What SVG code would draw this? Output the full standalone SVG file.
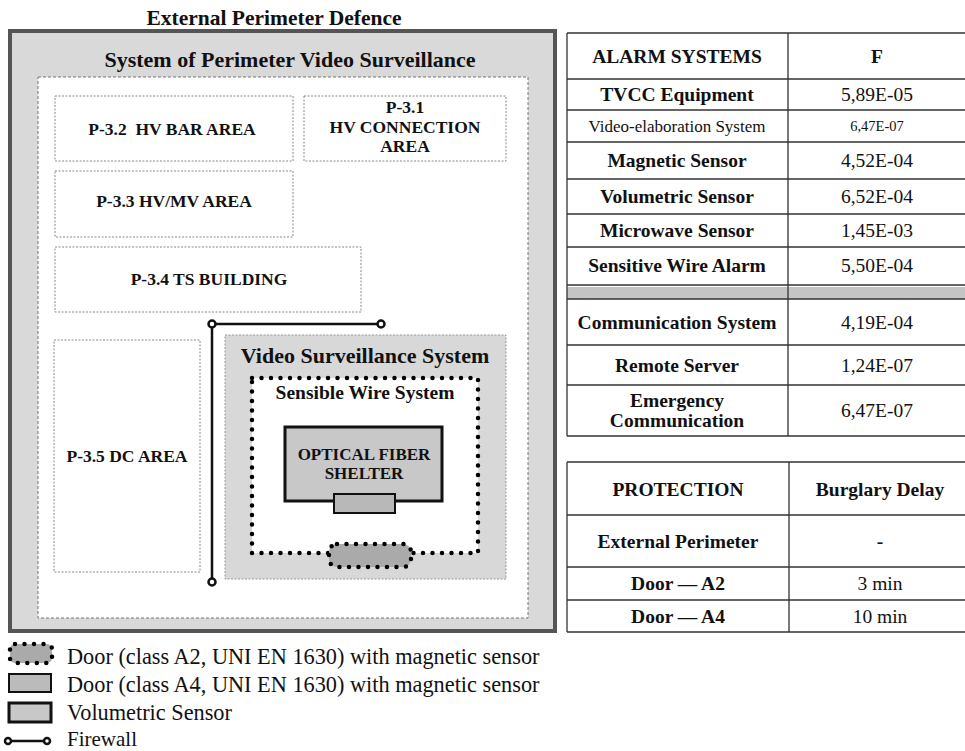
<svg xmlns="http://www.w3.org/2000/svg" width="965" height="751" viewBox="0 0 965 751">
<style>
text{font-family:"Liberation Serif","Times New Roman",serif;fill:#111}
.b{font-weight:bold}
.area{fill:#fff;stroke:#888;stroke-width:1;stroke-dasharray:2 1.5}
.tl{stroke:#333;stroke-width:1.3;fill:none}
.fw{stroke:#111;stroke-width:2.5;fill:none}
.fc{fill:#fff;stroke:#111;stroke-width:2.5}
.dot{fill:none;stroke:#000;stroke-width:4.5;stroke-linecap:round;stroke-dasharray:0 9.5}
.at{font-weight:bold;font-size:17.5px;text-anchor:middle}
.tb{font-weight:bold;font-size:19.5px;text-anchor:middle}
.tv{font-size:19.5px;text-anchor:middle}
.lg{font-size:22.3px}
</style>
<rect width="965" height="751" fill="#fff"/>
<text class="b" x="274" y="25" font-size="21.5" text-anchor="middle">External Perimeter Defence</text>
<g id="outer">
<rect x="10" y="31" width="545" height="600" fill="#d9d9d9" stroke="#555" stroke-width="4"/>
<text class="b" x="290" y="67" font-size="22" text-anchor="middle">System of Perimeter Video Surveillance</text>
<rect x="38" y="77" width="490" height="541" fill="#fff" stroke="#777" stroke-width="1" stroke-dasharray="3 2"/>
</g>
<g id="p32"><rect class="area" x="55" y="96" width="238" height="65"/><text class="at" x="172" y="135" xml:space="preserve">P-3.2  HV BAR AREA</text></g>
<g id="p31"><rect class="area" x="304" y="96" width="202" height="65"/><text class="at" x="405" y="113">P-3.1</text><text class="at" x="405" y="133">HV CONNECTION</text><text class="at" x="405" y="152">AREA</text></g>
<g id="p33"><rect class="area" x="55" y="171" width="238" height="66"/><text class="at" x="174" y="207">P-3.3 HV/MV AREA</text></g>
<g id="p34"><rect class="area" x="55" y="247" width="306" height="65"/><text class="at" x="209" y="285">P-3.4 TS BUILDING</text></g>
<g id="p35"><rect class="area" x="54" y="340" width="146" height="232"/><text class="at" x="127" y="462">P-3.5 DC AREA</text></g>
<g id="vss">
<rect x="225" y="335" width="281" height="244" fill="#d8d8d8" stroke="#999" stroke-width="1" stroke-dasharray="2 1.5"/>
<text class="b" x="365" y="363" font-size="22" text-anchor="middle">Video Surveillance System</text>
</g>
<g id="sws">
<rect x="252" y="378" width="226" height="175" fill="#fff"/>
<path class="dot" d="M252 378 H478 V553 H252 Z"/>
<text class="b" x="365" y="399" font-size="19.5" text-anchor="middle">Sensible Wire System</text>
</g>
<g id="shelter">
<rect x="285" y="427" width="157" height="74" fill="#c8c8c8" stroke="#111" stroke-width="3"/>
<text x="364" y="460" font-size="17" font-weight="bold" text-anchor="middle">OPTICAL FIBER</text>
<text x="364" y="479" font-size="17" font-weight="bold" text-anchor="middle">SHELTER</text>
<rect x="334" y="494" width="61" height="19" fill="#b8b8b8" stroke="#111" stroke-width="2"/>
</g>
<g id="doorA2">
<rect x="329" y="544" width="82" height="23" rx="8" fill="#aaa"/>
<rect class="dot" x="329" y="544" width="82" height="23" rx="8"/>
</g>
<g id="connectors">
<path class="fw" d="M381 324 H212 V582"/>
<circle class="fc" cx="212" cy="324" r="3.5"/>
<circle class="fc" cx="381" cy="324" r="3.5"/>
<circle class="fc" cx="212" cy="582" r="3.5"/>
</g>
<g id="legend">
<rect x="10" y="644" width="42" height="19" rx="5" fill="#aaa"/>
<rect class="dot" x="10" y="644" width="42" height="19" rx="5"/>
<text class="lg" x="67" y="664">Door (class A2, UNI EN 1630) with magnetic sensor</text>
<rect x="9" y="674" width="42" height="18" fill="#bbb" stroke="#111" stroke-width="2"/>
<text class="lg" x="67" y="692">Door (class A4, UNI EN 1630) with magnetic sensor</text>
<rect x="9" y="703" width="42" height="19" fill="#c8c8c8" stroke="#111" stroke-width="3"/>
<text class="lg" x="67" y="720">Volumetric Sensor</text>
<path class="fw" d="M8 741 H47"/>
<circle class="fc" cx="8" cy="741" r="3"/>
<circle class="fc" cx="47" cy="741" r="3"/>
<text x="67" y="746" font-size="21">Firewall</text>
</g>
<g id="table1">
<rect x="567" y="287" width="398" height="12" fill="#c4c4c4"/>
<path class="tl" d="M567 33 H965 M567 79 H965 M567 110 H965 M567 142 H965 M567 179 H965 M567 214 H965 M567 247 H965 M567 285 H965 M567 299 H965 M567 345 H965 M567 385 H965 M567 436 H965 M567 33 V436 M788 33 V436"/>
<text class="tb" x="677" y="63">ALARM SYSTEMS</text>
<text class="tb" x="877" y="63">F</text>
<text class="tb" x="677" y="101">TVCC Equipment</text>
<text class="tv" x="877" y="101">5,89E-05</text>
<text x="677" y="132" font-size="17" text-anchor="middle">Video-elaboration System</text>
<text x="877" y="131" font-size="14.5" text-anchor="middle">6,47E-07</text>
<text class="tb" x="677" y="167">Magnetic Sensor</text>
<text class="tv" x="877" y="167">4,52E-04</text>
<text class="tb" x="677" y="203">Volumetric Sensor</text>
<text class="tv" x="877" y="203">6,52E-04</text>
<text class="tb" x="677" y="237">Microwave Sensor</text>
<text class="tv" x="877" y="237">1,45E-03</text>
<text class="tb" x="677" y="272">Sensitive Wire Alarm</text>
<text class="tv" x="877" y="272">5,50E-04</text>
<text class="tb" x="677" y="329">Communication System</text>
<text class="tv" x="877" y="329">4,19E-04</text>
<text class="tb" x="677" y="372">Remote Server</text>
<text class="tv" x="877" y="372">1,24E-07</text>
<text class="tb" x="677" y="407">Emergency</text>
<text class="tb" x="677" y="427">Communication</text>
<text class="tv" x="877" y="417">6,47E-07</text>
</g>
<g id="table2">
<path class="tl" d="M567 462 H965 M567 515 H965 M567 567 H965 M567 600 H965 M567 632 H965 M567 462 V632 M789 462 V632"/>
<text class="tb" x="678" y="496">PROTECTION</text>
<text class="tb" x="880" y="496">Burglary Delay</text>
<text class="tb" x="678" y="548">External Perimeter</text>
<text class="tb" x="880" y="548">-</text>
<text class="tb" x="678" y="590">Door — A2</text>
<text class="tv" x="880" y="590">3 min</text>
<text class="tb" x="678" y="623">Door — A4</text>
<text class="tv" x="880" y="623">10 min</text>
</g>
</svg>
